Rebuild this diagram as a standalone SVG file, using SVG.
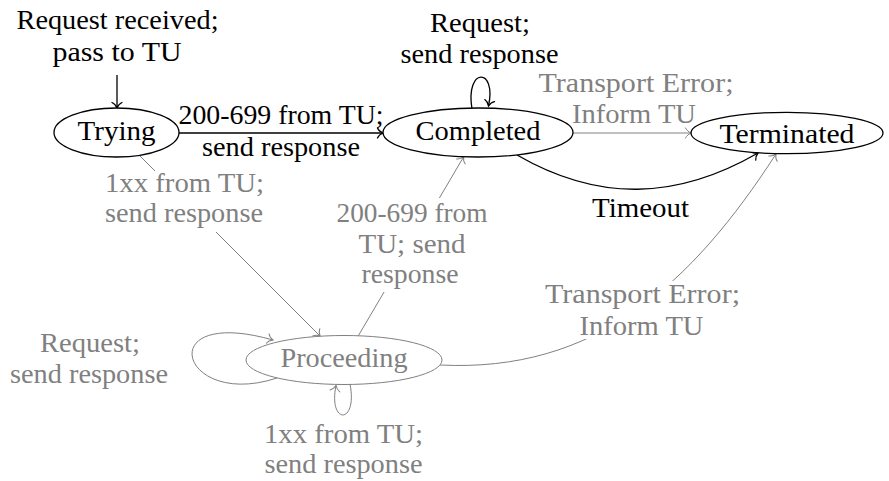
<svg xmlns="http://www.w3.org/2000/svg" width="889" height="481" viewBox="0 0 889 481">
  <style>
    text { font-family: "Liberation Serif", "Times New Roman", serif; font-size: 27px; text-anchor: middle; }
    .k { fill: #000; }
    .g { fill: #808080; }
    .state-k { fill: #fff; stroke: #000; stroke-width: 1.3; }
    .state-g { fill: #fff; stroke: #808080; stroke-width: 1; }
    .edge-k { fill: none; stroke: #000; stroke-width: 1.3; marker-end: url(#tipK); }
    .edge-g { fill: none; stroke: #808080; stroke-width: 1; marker-end: url(#tipG); }
    .bg { fill: #fff; }
  </style>
  <defs>
    <marker id="tipK" viewBox="-8 -7 10 14" refX="0" refY="0" markerWidth="10" markerHeight="14" markerUnits="userSpaceOnUse" orient="auto">
      <path d="M-5.5,-5 C-4.5,-2.5 -1.5,-0.6 0,0 C-1.5,0.6 -4.5,2.5 -5.5,5" fill="none" stroke="#000" stroke-width="1.3" stroke-linecap="round"/>
    </marker>
    <marker id="tipG" viewBox="-8 -7 10 14" refX="0" refY="0" markerWidth="10" markerHeight="14" markerUnits="userSpaceOnUse" orient="auto">
      <path d="M-5.5,-5 C-4.5,-2.5 -1.5,-0.6 0,0 C-1.5,0.6 -4.5,2.5 -5.5,5" fill="none" stroke="#808080" stroke-width="1" stroke-linecap="round"/>
    </marker>
  </defs>

  <!-- connectors -->
  <g id="edges">
    <!-- entry arrow -->
    <path class="edge-k" d="M117,75 L117,108"/>
    <!-- Trying -> Completed -->
    <path class="edge-k" d="M179,133 L383,133"/>
    <!-- Trying -> Proceeding -->
    <path class="edge-g" d="M139.3,155.3 L320.2,336.2"/>
    <!-- Proceeding -> Completed -->
    <path class="edge-g" d="M358.3,335.8 L463.7,156.7"/>
    <!-- Completed -> Terminated (transport error) -->
    <path class="edge-g" d="M573,133 L691,133"/>
    <!-- Completed -> Terminated (timeout) -->
    <path class="edge-k" d="M517,155 C598.4,202 676.6,200 758,153"/>
    <!-- Proceeding -> Terminated (transport error) -->
    <path class="edge-g" d="M440,365 C595.1,372.9 691.7,284.5 776,154"/>
    <!-- self loops -->
    <path class="edge-k" d="M472,109 C465,67 497,67 488.5,106"/>
    <path class="edge-g" d="M277,378 C180,410 150,305 273,340"/>
    <path class="edge-g" d="M350,384 C358,425 328,425 336,385.5"/>

    <!-- label backgrounds -->
    <rect class="bg" x="101" y="171" width="167" height="61"/>
    <rect class="bg" x="333" y="198" width="158" height="94"/>
    <rect class="bg" x="541" y="281" width="204" height="58"/>

    <!-- labels -->
    <g id="label-entry" class="k">
      <text x="117.5" y="28.5" textLength="202" lengthAdjust="spacingAndGlyphs">Request received;</text>
      <text x="117" y="61" textLength="129" lengthAdjust="spacingAndGlyphs">pass to TU</text>
    </g>
    <g class="k">
      <text x="281" y="124" textLength="205" lengthAdjust="spacingAndGlyphs">200-699 from TU;</text>
      <text x="281" y="156" textLength="158" lengthAdjust="spacingAndGlyphs">send response</text>
    </g>
    <g class="g">
      <text x="184.5" y="192" textLength="159" lengthAdjust="spacingAndGlyphs">1xx from TU;</text>
      <text x="184" y="222" textLength="158" lengthAdjust="spacingAndGlyphs">send response</text>
    </g>
    <g class="g">
      <text x="412" y="222" textLength="151" lengthAdjust="spacingAndGlyphs">200-699 from</text>
      <text x="412" y="252.5" textLength="107" lengthAdjust="spacingAndGlyphs">TU; send</text>
      <text x="410" y="282.5" textLength="97" lengthAdjust="spacingAndGlyphs">response</text>
    </g>
    <g class="k">
      <text x="480" y="32" textLength="100" lengthAdjust="spacingAndGlyphs">Request;</text>
      <text x="479.5" y="63" textLength="158" lengthAdjust="spacingAndGlyphs">send response</text>
    </g>
    <g class="g">
      <text x="636" y="92" textLength="195" lengthAdjust="spacingAndGlyphs">Transport Error;</text>
      <text x="634" y="123" textLength="124" lengthAdjust="spacingAndGlyphs">Inform TU</text>
    </g>
    <g class="k">
      <text x="640.5" y="217" textLength="97" lengthAdjust="spacingAndGlyphs">Timeout</text>
    </g>
    <g class="g">
      <text x="642.5" y="303" textLength="195" lengthAdjust="spacingAndGlyphs">Transport Error;</text>
      <text x="641.5" y="335" textLength="124" lengthAdjust="spacingAndGlyphs">Inform TU</text>
    </g>
    <g class="g">
      <text x="90" y="352" textLength="100" lengthAdjust="spacingAndGlyphs">Request;</text>
      <text x="89" y="383" textLength="158" lengthAdjust="spacingAndGlyphs">send response</text>
    </g>
    <g class="g">
      <text x="343.5" y="443" textLength="159" lengthAdjust="spacingAndGlyphs">1xx from TU;</text>
      <text x="343.5" y="473" textLength="158" lengthAdjust="spacingAndGlyphs">send response</text>
    </g>
  </g>

  <!-- states -->
  <g id="trying">
    <ellipse class="state-k" cx="116.5" cy="132.5" rx="62.5" ry="24.5"/>
    <text class="k" x="116.5" y="139.5" textLength="78" lengthAdjust="spacingAndGlyphs">Trying</text>
  </g>
  <g id="completed">
    <ellipse class="state-k" cx="478" cy="132.5" rx="95" ry="24.5"/>
    <text class="k" x="478" y="139.5" textLength="125" lengthAdjust="spacingAndGlyphs">Completed</text>
  </g>
  <g id="terminated">
    <ellipse class="state-k" cx="787" cy="133" rx="96" ry="20.7"/>
    <text class="k" x="787" y="142.5" textLength="135" lengthAdjust="spacingAndGlyphs">Terminated</text>
  </g>
  <g id="proceeding">
    <ellipse class="state-g" cx="344" cy="360" rx="98" ry="24.5"/>
    <text class="g" x="344" y="366.5" textLength="127" lengthAdjust="spacingAndGlyphs">Proceeding</text>
  </g>
</svg>
